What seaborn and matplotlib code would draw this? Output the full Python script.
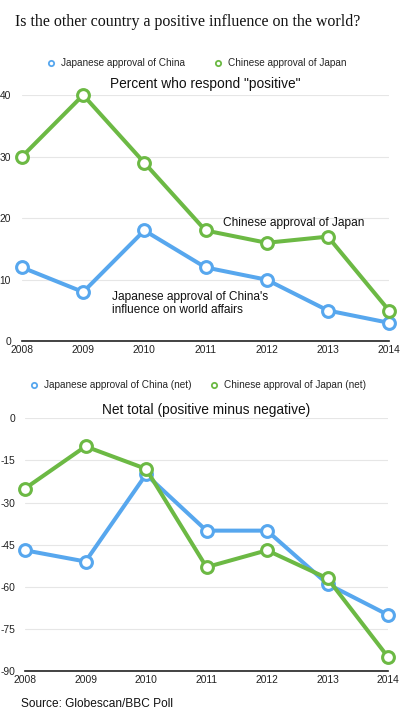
import matplotlib
matplotlib.use("Agg")
import matplotlib.pyplot as plt
from matplotlib.lines import Line2D
import seaborn as sns
import pandas as pd

years = [2008, 2009, 2010, 2011, 2012, 2013, 2014]
jp_of_cn = [12, 8, 18, 12, 10, 5, 3]
cn_of_jp = [30, 40, 29, 18, 16, 17, 5]
jp_of_cn_net = [-47, -51, -20, -40, -40, -59, -70]
cn_of_jp_net = [-25, -10, -18, -53, -47, -57, -85]
top_ticks = [0, 10, 20, 30, 40]
bot_ticks = [0, -15, -30, -45, -60, -75, -90]

BLUE = "#57a7ee"
GREEN = "#6cb944"

sns.set_theme(style="white")
plt.rcParams['font.family'] = ['Liberation Sans', 'DejaVu Sans']
plt.rcParams['axes.unicode_minus'] = False

fig = plt.figure(figsize=(4.0, 7.2), dpi=100)
ax1 = fig.add_axes([0.055, 0.526, 0.9175, 0.342])
ax2 = fig.add_axes([0.0625, 0.068, 0.9075, 0.351])

def draw(ax, a, b, la, lb, ticks, ylim, ypad):
    df = pd.DataFrame({"year": years * 2, "value": a + b,
                       "series": [la] * len(years) + [lb] * len(years)})
    sns.lineplot(data=df, x="year", y="value", hue="series",
                 palette={la: BLUE, lb: GREEN}, ax=ax, legend=False,
                 linewidth=2.9, marker="o", markersize=8.5,
                 markerfacecolor="white", markeredgewidth=2.2,
                 clip_on=False, zorder=3)
    for ln in ax.lines:
        ln.set_markeredgecolor(ln.get_color())
        ln.set_clip_on(False)
    ax.set_xlim(years[0], years[-1])
    ax.set_ylim(*ylim)
    ax.set_yticks(ticks)
    ax.set_xticks(years)
    ax.set_xlabel("")
    ax.set_ylabel("")
    for s in ["top", "right", "left"]:
        ax.spines[s].set_visible(False)
    ax.spines["bottom"].set_color("#222222")
    ax.spines["bottom"].set_linewidth(1.2)
    ax.grid(axis="y", color="#e6e6e6", linewidth=0.8)
    ax.set_axisbelow(True)
    ax.tick_params(axis="y", length=0, pad=ypad, labelsize=7.4, labelcolor="#222222")
    ax.tick_params(axis="x", length=0, pad=3, labelsize=7.4, labelcolor="#222222")
    handles = [Line2D([], [], linestyle="none", marker="o", markersize=3.8,
                      markerfacecolor="white", markeredgecolor=c, markeredgewidth=1.3)
               for c in (BLUE, GREEN)]
    return handles

h1 = draw(ax1, jp_of_cn, cn_of_jp, "Japanese approval of China",
          "Chinese approval of Japan", top_ticks, (0, 40), 8)
ax1.legend(h1, ["Japanese approval of China", "Chinese approval of Japan"],
           loc="center", bbox_to_anchor=(0.475, 1.13), ncol=2, frameon=False,
           fontsize=7.2, handlelength=1.0, handletextpad=0.5, columnspacing=2.8,
           borderaxespad=0, borderpad=0)
ax1.text(0.5, 1.015, 'Percent who respond "positive"', transform=ax1.transAxes,
         ha="center", va="bottom", fontsize=9.9, color="#111111")
ax1.text(2011.29, 19.2, "Chinese approval of Japan", ha="left", va="center",
         fontsize=8.6, color="#111111")
ax1.text(2009.47, 6.2, "Japanese approval of China's\ninfluence on world affairs",
         ha="left", va="center", fontsize=8.6, color="#111111", linespacing=1.12)

h2 = draw(ax2, jp_of_cn_net, cn_of_jp_net, "Japanese approval of China (net)",
          "Chinese approval of Japan (net)", bot_ticks, (-90, 0), 7)
ax2.legend(h2, ["Japanese approval of China (net)", "Chinese approval of Japan (net)"],
           loc="center", bbox_to_anchor=(0.475, 1.13), ncol=2, frameon=False,
           fontsize=7.2, handlelength=1.0, handletextpad=0.5, columnspacing=1.7,
           borderaxespad=0, borderpad=0)
ax2.text(0.5, 1.005, "Net total (positive minus negative)", transform=ax2.transAxes,
         ha="center", va="bottom", fontsize=9.9, color="#111111")

fig.text(0.0375, 0.97, "Is the other country a positive influence on the world?",
         ha="left", va="center", fontsize=11.5, color="#111111",
         family=["Liberation Serif", "DejaVu Serif"])
fig.text(0.053, 0.022, "Source: Globescan/BBC Poll", ha="left", va="center",
         fontsize=8.6, color="#111111")

fig.savefig("out.png", dpi=100, facecolor="white")
